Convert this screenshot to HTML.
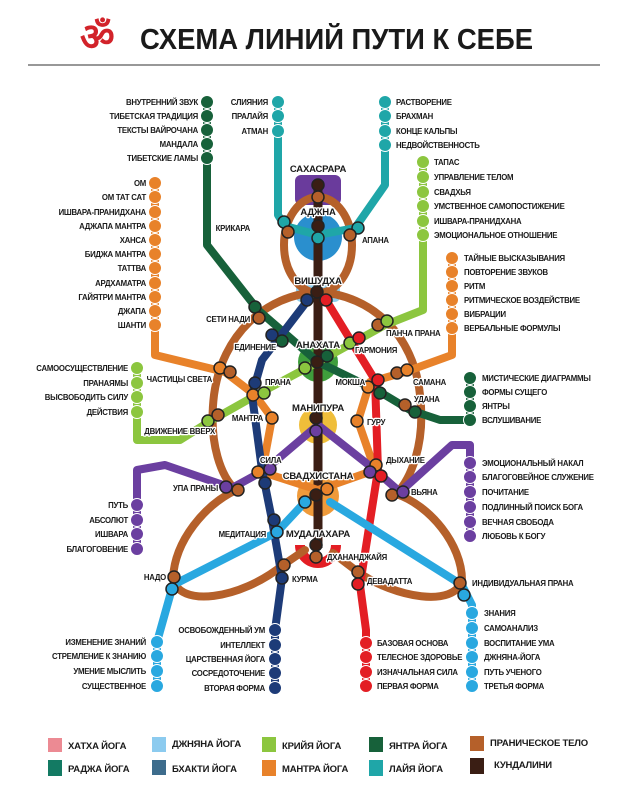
<!DOCTYPE html>
<html><head><meta charset="utf-8"><style>
html,body{margin:0;padding:0;background:#fff;}
svg{display:block}
text{font-family:"Liberation Sans Narrow","Liberation Sans",sans-serif;font-weight:bold;fill:#1a1a1a;}
.s{font-size:7.8px;letter-spacing:-0.25px}
.b{font-size:9.5px;letter-spacing:-0.2px}
.h{paint-order:stroke;stroke:#fff;stroke-width:2.5px;stroke-linejoin:round}
.r{text-anchor:end}
.m{text-anchor:middle}
.ln{fill:none;stroke-width:8;stroke-linecap:round;stroke-linejoin:round}
</style></head><body>
<svg width="622" height="800" viewBox="0 0 622 800" xmlns="http://www.w3.org/2000/svg">
<rect width="622" height="800" fill="#fff"/>
<!-- title -->
<text x="80" y="50" style="font-size:38px;fill:#d2232a;font-family:'DejaVu Sans',sans-serif;font-weight:bold">ॐ</text>
<text x="140" y="49" textLength="393" lengthAdjust="spacingAndGlyphs" style="font-size:29px;fill:#1a1a1a">СХЕМА ЛИНИЙ ПУТИ К СЕБЕ</text>
<line x1="28" y1="65" x2="600" y2="65" stroke="#777" stroke-width="1.5"/>

<!-- chakra backgrounds -->
<rect x="295" y="175" width="46" height="30" rx="6" fill="#6a3b9c"/>
<circle cx="318" cy="237" r="24" fill="#2a8fce"/>
<rect x="296" y="284" width="44" height="18" rx="5" fill="#8fcfee"/>
<circle cx="318" cy="362" r="20" fill="#3f9e3c"/>
<circle cx="318" cy="425" r="19" fill="#efbe3a"/>
<circle cx="318" cy="496" r="21" fill="#ef9a3a"/>
<path d="M300,545 A18,18 0 1 0 336,545" fill="none" stroke="#e31e24" stroke-width="10"/>

<!-- pranic body (brown) -->
<g stroke="#b5602a" class="ln">
<ellipse cx="318" cy="245" rx="34" ry="48" fill="none"/>
<path d="M318,292 C265,295 222,335 214,395 C208,445 222,478 236,490 C205,505 175,540 173,578 C178,608 240,600 283,565 L305,550"/>
<path d="M318,292 C372,295 414,335 420,395 C426,445 410,480 396,494 C430,505 462,545 462,580 C455,608 395,598 358,572 L333,553"/>
</g>
<!-- kundalini -->
<line x1="318" y1="185" x2="318" y2="548" stroke="#3a1e14" stroke-width="9"/>
<path class="ln" stroke="#17613a" d="M207,102 V245 L258,310 L318,362 L380,392 L410,410 L440,420 H470 V378"/>
<path class="ln" stroke="#1fa6a8" d="M278,102 V215 L285,226 L318,235 L355,228 L385,185 V102"/>
<path class="ln" stroke="#8cc63f" d="M423,162 V310 L385,325 L318,362 L260,393 L212,420 L180,440 H137 V368"/>
<path class="ln" stroke="#e8822a" d="M155,183 V355 L225,372 L255,395 L272,418 L262,472 L318,490 L375,470 L358,421 L370,382 L405,372 L452,355 V258"/>
<path class="ln" stroke="#6b3fa0" d="M137,549 V470 L165,465 L232,488 L265,470 L318,425 L375,470 L400,492 L452,445 H470 V536"/>
<path class="ln" stroke="#1d3b78" d="M308,300 L262,360 L252,395 L262,470 L272,520 L282,578 L275,630 V688"/>
<path class="ln" stroke="#e31e24" d="M326,300 L375,380 L378,470 L360,585 L366,630 V686"/>
<path class="ln" stroke="#29a8e0" d="M305,502 L277,532 L173,585 L157,642 V686"/>
<path class="ln" stroke="#29a8e0" d="M330,502 L462,585 L472,605 V686"/>

<!-- station circles -->
<g stroke="#fff" stroke-width="1">
<g fill="#17613a"><circle cx="207" cy="102" r="6.5"/><circle cx="207" cy="116" r="6.5"/><circle cx="207" cy="130" r="6.5"/><circle cx="207" cy="144" r="6.5"/><circle cx="207" cy="158" r="6.5"/>
<circle cx="470" cy="378" r="6.5"/><circle cx="470" cy="392" r="6.5"/><circle cx="470" cy="406" r="6.5"/><circle cx="470" cy="420" r="6.5"/></g>
<g fill="#1fa6a8"><circle cx="278" cy="102" r="6.5"/><circle cx="278" cy="116" r="6.5"/><circle cx="278" cy="131" r="6.5"/>
<circle cx="385" cy="102" r="6.5"/><circle cx="385" cy="116" r="6.5"/><circle cx="385" cy="131" r="6.5"/><circle cx="385" cy="145" r="6.5"/></g>
<g fill="#8cc63f"><circle cx="423" cy="162" r="6.5"/><circle cx="423" cy="177" r="6.5"/><circle cx="423" cy="192" r="6.5"/><circle cx="423" cy="206" r="6.5"/><circle cx="423" cy="221" r="6.5"/><circle cx="423" cy="235" r="6.5"/>
<circle cx="137" cy="368" r="6.5"/><circle cx="137" cy="383" r="6.5"/><circle cx="137" cy="397" r="6.5"/><circle cx="137" cy="412" r="6.5"/></g>
<g fill="#e8822a"><circle cx="155" cy="183" r="6.5"/><circle cx="155" cy="197" r="6.5"/><circle cx="155" cy="212" r="6.5"/><circle cx="155" cy="226" r="6.5"/><circle cx="155" cy="240" r="6.5"/><circle cx="155" cy="254" r="6.5"/><circle cx="155" cy="268" r="6.5"/><circle cx="155" cy="283" r="6.5"/><circle cx="155" cy="297" r="6.5"/><circle cx="155" cy="311" r="6.5"/><circle cx="155" cy="325" r="6.5"/>
<circle cx="452" cy="258" r="6.5"/><circle cx="452" cy="272" r="6.5"/><circle cx="452" cy="286" r="6.5"/><circle cx="452" cy="300" r="6.5"/><circle cx="452" cy="314" r="6.5"/><circle cx="452" cy="328" r="6.5"/></g>
<g fill="#6b3fa0"><circle cx="470" cy="463" r="6.5"/><circle cx="470" cy="477" r="6.5"/><circle cx="470" cy="492" r="6.5"/><circle cx="470" cy="507" r="6.5"/><circle cx="470" cy="522" r="6.5"/><circle cx="470" cy="536" r="6.5"/>
<circle cx="137" cy="505" r="6.5"/><circle cx="137" cy="520" r="6.5"/><circle cx="137" cy="534" r="6.5"/><circle cx="137" cy="549" r="6.5"/></g>
<g fill="#29a8e0"><circle cx="157" cy="642" r="6.5"/><circle cx="157" cy="656" r="6.5"/><circle cx="157" cy="671" r="6.5"/><circle cx="157" cy="686" r="6.5"/>
<circle cx="472" cy="613" r="6.5"/><circle cx="472" cy="628" r="6.5"/><circle cx="472" cy="643" r="6.5"/><circle cx="472" cy="657" r="6.5"/><circle cx="472" cy="672" r="6.5"/><circle cx="472" cy="686" r="6.5"/></g>
<g fill="#1d3b78"><circle cx="275" cy="630" r="6.5"/><circle cx="275" cy="645" r="6.5"/><circle cx="275" cy="659" r="6.5"/><circle cx="275" cy="673" r="6.5"/><circle cx="275" cy="688" r="6.5"/></g>
<g fill="#e31e24"><circle cx="366" cy="643" r="6.5"/><circle cx="366" cy="657" r="6.5"/><circle cx="366" cy="672" r="6.5"/><circle cx="366" cy="686" r="6.5"/></g>
</g>
<!-- interchange stations -->
<g stroke="#222" stroke-width="1.5">
<circle cx="318" cy="185" r="6" fill="#3a1e14"/><circle cx="318" cy="197" r="6" fill="#b5602a"/>
<circle cx="318" cy="226" r="6" fill="#3a1e14"/><circle cx="318" cy="238" r="6" fill="#1fa6a8"/>
<circle cx="284" cy="222" r="6" fill="#1fa6a8"/><circle cx="288" cy="232" r="6" fill="#b5602a"/>
<circle cx="358" cy="228" r="6" fill="#1fa6a8"/><circle cx="350" cy="235" r="6" fill="#b5602a"/>
<circle cx="317" cy="292" r="6" fill="#3a1e14"/><circle cx="307" cy="300" r="6" fill="#1d3b78"/><circle cx="326" cy="300" r="6" fill="#e31e24"/>
<circle cx="255" cy="307" r="6" fill="#17613a"/><circle cx="259" cy="318" r="6" fill="#b5602a"/>
<circle cx="272" cy="335" r="6" fill="#1d3b78"/><circle cx="282" cy="341" r="6" fill="#17613a"/>
<circle cx="317" cy="362" r="6" fill="#3a1e14"/><circle cx="327" cy="356" r="6" fill="#17613a"/><circle cx="305" cy="368" r="6" fill="#8cc63f"/>
<circle cx="350" cy="343" r="6" fill="#8cc63f"/><circle cx="359" cy="338" r="6" fill="#e31e24"/>
<circle cx="378" cy="325" r="6" fill="#b5602a"/><circle cx="387" cy="321" r="6" fill="#8cc63f"/>
<circle cx="220" cy="368" r="6" fill="#e8822a"/><circle cx="230" cy="372" r="6" fill="#b5602a"/>
<circle cx="255" cy="383" r="6" fill="#1d3b78"/><circle cx="253" cy="395" r="6" fill="#e8822a"/><circle cx="264" cy="393" r="6" fill="#8cc63f"/>
<circle cx="378" cy="380" r="6" fill="#e31e24"/><circle cx="368" cy="387" r="6" fill="#e8822a"/><circle cx="380" cy="393" r="6" fill="#17613a"/>
<circle cx="397" cy="373" r="6" fill="#b5602a"/><circle cx="407" cy="370" r="6" fill="#e8822a"/>
<circle cx="405" cy="405" r="6" fill="#b5602a"/><circle cx="415" cy="412" r="6" fill="#17613a"/>
<circle cx="272" cy="418" r="6" fill="#e8822a"/>
<circle cx="208" cy="421" r="6" fill="#8cc63f"/><circle cx="218" cy="415" r="6" fill="#b5602a"/>
<circle cx="316" cy="418" r="6" fill="#3a1e14"/><circle cx="316" cy="431" r="6" fill="#6b3fa0"/>
<circle cx="357" cy="421" r="6" fill="#e8822a"/>
<circle cx="258" cy="472" r="6" fill="#e8822a"/><circle cx="270" cy="469" r="6" fill="#6b3fa0"/><circle cx="265" cy="483" r="6" fill="#1d3b78"/>
<circle cx="376" cy="465" r="6" fill="#e8822a"/><circle cx="370" cy="472" r="6" fill="#6b3fa0"/><circle cx="381" cy="476" r="6" fill="#e31e24"/>
<circle cx="226" cy="487" r="6" fill="#6b3fa0"/><circle cx="238" cy="490" r="6" fill="#b5602a"/>
<circle cx="316" cy="495" r="6" fill="#3a1e14"/><circle cx="327" cy="489" r="6" fill="#e8822a"/><circle cx="305" cy="502" r="6" fill="#29a8e0"/>
<circle cx="392" cy="495" r="6" fill="#b5602a"/><circle cx="403" cy="492" r="6" fill="#6b3fa0"/>
<circle cx="274" cy="520" r="6" fill="#1d3b78"/><circle cx="277" cy="532" r="6" fill="#29a8e0"/>
<circle cx="316" cy="545" r="6" fill="#3a1e14"/><circle cx="316" cy="557" r="6" fill="#b5602a"/>
<circle cx="284" cy="565" r="6" fill="#b5602a"/><circle cx="282" cy="578" r="6" fill="#1d3b78"/>
<circle cx="358" cy="572" r="6" fill="#b5602a"/><circle cx="358" cy="584" r="6" fill="#e31e24"/>
<circle cx="174" cy="577" r="6" fill="#b5602a"/><circle cx="172" cy="589" r="6" fill="#29a8e0"/>
<circle cx="460" cy="583" r="6" fill="#b5602a"/><circle cx="464" cy="595" r="6" fill="#29a8e0"/>
</g>

<g class="s r">
<text x="198" y="105">ВНУТРЕННИЙ ЗВУК</text><text x="198" y="119">ТИБЕТСКАЯ ТРАДИЦИЯ</text><text x="198" y="133">ТЕКСТЫ ВАЙРОЧАНА</text><text x="198" y="147">МАНДАЛА</text><text x="198" y="161">ТИБЕТСКИЕ ЛАМЫ</text>
<text x="268" y="105">СЛИЯНИЯ</text><text x="268" y="119">ПРАЛАЙЯ</text><text x="268" y="134">АТМАН</text>
<text x="146" y="186">ОМ</text><text x="146" y="200">ОМ ТАТ САТ</text><text x="146" y="215">ИШВАРА-ПРАНИДХАНА</text><text x="146" y="229">АДЖАПА МАНТРА</text><text x="146" y="243">ХАНСА</text><text x="146" y="257">БИДЖА МАНТРА</text><text x="146" y="271">ТАТТВА</text><text x="146" y="286">АРДХАМАТРА</text><text x="146" y="300">ГАЙЯТРИ МАНТРА</text><text x="146" y="314">ДЖАПА</text><text x="146" y="328">ШАНТИ</text>
<text x="128" y="371">САМООСУЩЕСТВЛЕНИЕ</text><text x="128" y="386">ПРАНАЯМЫ</text><text x="128" y="400">ВЫСВОБОДИТЬ СИЛУ</text><text x="128" y="415">ДЕЙСТВИЯ</text>
<text x="128" y="508">ПУТЬ</text><text x="128" y="523">АБСОЛЮТ</text><text x="128" y="537">ИШВАРА</text><text x="128" y="552">БЛАГОГОВЕНИЕ</text>
<text x="146" y="645">ИЗМЕНЕНИЕ ЗНАНИЙ</text><text x="146" y="659">СТРЕМЛЕНИЕ К ЗНАНИЮ</text><text x="146" y="674">УМЕНИЕ МЫСЛИТЬ</text><text x="146" y="689">СУЩЕСТВЕННОЕ</text>
<text x="265" y="633">ОСВОБОЖДЕННЫЙ УМ</text><text x="265" y="648">ИНТЕЛЛЕКТ</text><text x="265" y="662">ЦАРСТВЕННАЯ ЙОГА</text><text x="265" y="676">СОСРЕДОТОЧЕНИЕ</text><text x="265" y="691">ВТОРАЯ ФОРМА</text>
</g>
<g class="s">
<text x="396" y="105">РАСТВОРЕНИЕ</text><text x="396" y="119">БРАХМАН</text><text x="396" y="134">КОНЦЕ КАЛЬПЫ</text><text x="396" y="148">НЕДВОЙСТВЕННОСТЬ</text>
<text x="434" y="165">ТАПАС</text><text x="434" y="180">УПРАВЛЕНИЕ ТЕЛОМ</text><text x="434" y="195">СВАДХЬЯ</text><text x="434" y="209">УМСТВЕННОЕ САМОПОСТИЖЕНИЕ</text><text x="434" y="224">ИШВАРА-ПРАНИДХАНА</text><text x="434" y="238">ЭМОЦИОНАЛЬНОЕ ОТНОШЕНИЕ</text>
<text x="464" y="261">ТАЙНЫЕ ВЫСКАЗЫВАНИЯ</text><text x="464" y="275">ПОВТОРЕНИЕ ЗВУКОВ</text><text x="464" y="289">РИТМ</text><text x="464" y="303">РИТМИЧЕСКОЕ ВОЗДЕЙСТВИЕ</text><text x="464" y="317">ВИБРАЦИИ</text><text x="464" y="331">ВЕРБАЛЬНЫЕ ФОРМУЛЫ</text>
<text x="482" y="381">МИСТИЧЕСКИЕ ДИАГРАММЫ</text><text x="482" y="395">ФОРМЫ СУЩЕГО</text><text x="482" y="409">ЯНТРЫ</text><text x="482" y="423">ВСЛУШИВАНИЕ</text>
<text x="482" y="466">ЭМОЦИОНАЛЬНЫЙ НАКАЛ</text><text x="482" y="480">БЛАГОГОВЕЙНОЕ СЛУЖЕНИЕ</text><text x="482" y="495">ПОЧИТАНИЕ</text><text x="482" y="510">ПОДЛИННЫЙ ПОИСК БОГА</text><text x="482" y="525">ВЕЧНАЯ СВОБОДА</text><text x="482" y="539">ЛЮБОВЬ К БОГУ</text>
<text x="484" y="616">ЗНАНИЯ</text><text x="484" y="631">САМОАНАЛИЗ</text><text x="484" y="646">ВОСПИТАНИЕ УМА</text><text x="484" y="660">ДЖНЯНА-ЙОГА</text><text x="484" y="675">ПУТЬ УЧЕНОГО</text><text x="484" y="689">ТРЕТЬЯ ФОРМА</text>
<text x="377" y="646">БАЗОВАЯ ОСНОВА</text><text x="377" y="660">ТЕЛЕСНОЕ ЗДОРОВЬЕ</text><text x="377" y="675">ИЗНАЧАЛЬНАЯ СИЛА</text><text x="377" y="689">ПЕРВАЯ ФОРМА</text>
</g>
<g class="s h">
<text x="250" y="231" class="r h">КРИКАРА</text><text x="362" y="243" class="h">АПАНА</text>
<text x="250" y="322" class="r h">СЕТИ НАДИ</text><text x="276" y="350" class="r h">ЕДИНЕНИЕ</text>
<text x="386" y="336" class="h">ПАНЧА ПРАНА</text><text x="355" y="353" class="h">ГАРМОНИЯ</text>
<text x="212" y="382" class="r h">ЧАСТИЦЫ СВЕТА</text><text x="265" y="385" class="h">ПРАНА</text>
<text x="365" y="385" class="r h">МОКША</text><text x="413" y="385" class="h">САМАНА</text><text x="414" y="402" class="h">УДАНА</text>
<text x="263" y="421" class="r h">МАНТРА</text><text x="367" y="425" class="h">ГУРУ</text>
<text x="215" y="434" class="r h">ДВИЖЕНИЕ ВВЕРХ</text>
<text x="260" y="463" class="h">СИЛА</text><text x="386" y="463" class="h">ДЫХАНИЕ</text>
<text x="218" y="491" class="r h">УПА ПРАНЫ</text><text x="411" y="495" class="h">ВЬЯНА</text>
<text x="266" y="537" class="r h">МЕДИТАЦИЯ</text><text x="327" y="560" class="h">ДХАНАНДЖАЙЯ</text>
<text x="292" y="582" class="h">КУРМА</text><text x="367" y="584" class="h">ДЕВАДАТТА</text>
<text x="166" y="580" class="r h">НАДО</text><text x="472" y="586" class="h">ИНДИВИДУАЛЬНАЯ ПРАНА</text>
</g>
<g class="b m">
<text x="318" y="172" class="h">САХАСРАРА</text><text x="318" y="215" class="h">АДЖНА</text><text x="318" y="284" class="h">ВИШУДХА</text>
<text x="318" y="348" class="h">АНАХАТА</text><text x="318" y="411" class="h">МАНИПУРА</text><text x="318" y="479" class="h">СВАДХИСТАНА</text><text x="318" y="537" class="h">МУДАЛАХАРА</text>
</g>
<!-- legend -->
<rect x="48" y="738" width="14" height="14" fill="#ec8a93"/><text x="68" y="749" class="b">ХАТХА ЙОГА</text>
<rect x="48" y="760" width="14" height="16" fill="#137a63"/><text x="68" y="772" class="b">РАДЖА ЙОГА</text>
<rect x="152" y="737" width="14" height="15" fill="#8ccbef"/><text x="172" y="747" class="b">ДЖНЯНА ЙОГА</text>
<rect x="152" y="760" width="14" height="15" fill="#3d6c8c"/><text x="172" y="772" class="b">БХАКТИ ЙОГА</text>
<rect x="262" y="737" width="14" height="15" fill="#8cc63f"/><text x="282" y="749" class="b">КРИЙЯ ЙОГА</text>
<rect x="262" y="760" width="14" height="16" fill="#e8822a"/><text x="282" y="772" class="b">МАНТРА ЙОГА</text>
<rect x="369" y="737" width="14" height="15" fill="#17613a"/><text x="389" y="749" class="b">ЯНТРА ЙОГА</text>
<rect x="369" y="760" width="14" height="16" fill="#1fa6a8"/><text x="389" y="772" class="b">ЛАЙЯ ЙОГА</text>
<rect x="470" y="736" width="14" height="15" fill="#b5602a"/><text x="490" y="746" class="b">ПРАНИЧЕСКОЕ ТЕЛО</text>
<rect x="470" y="758" width="14" height="16" fill="#3a1e14"/><text x="494" y="768" class="b">КУНДАЛИНИ</text>
</svg>
</body></html>
